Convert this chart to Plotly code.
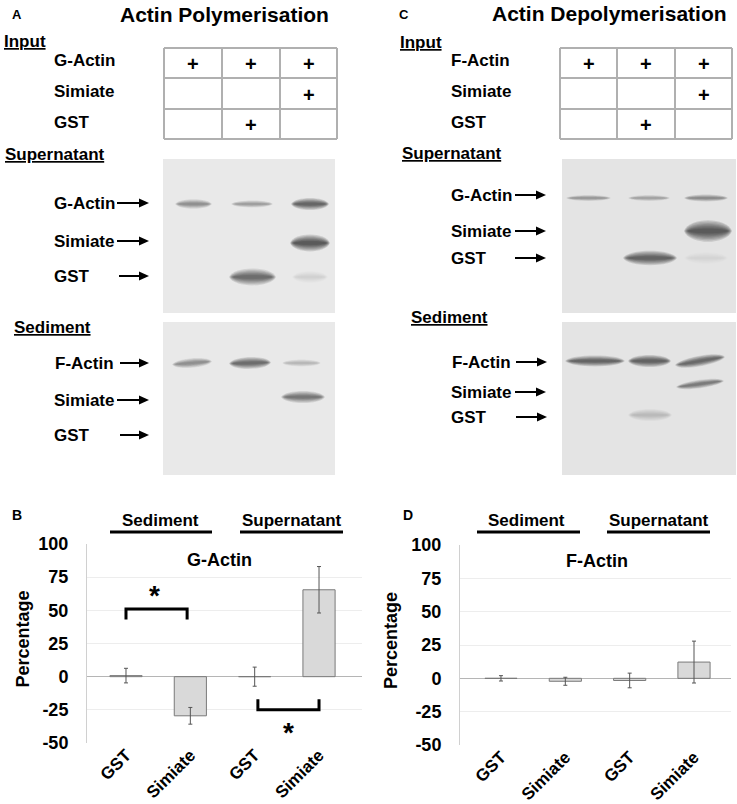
import plotly.graph_objects as go

# ---------------- DATA ----------------
input_rows_A = ["G-Actin", "Simiate", "GST"]
input_rows_C = ["F-Actin", "Simiate", "GST"]
input_matrix = [[1, 1, 1], [0, 0, 1], [0, 1, 0]]

gelA_sup_rows = ["G-Actin", "Simiate", "GST"]
gelA_sup_intensity = [[0.45, 0.35, 0.75], [0.0, 0.0, 0.85], [0.0, 0.7, 0.08]]
gelA_sed_rows = ["F-Actin", "Simiate", "GST"]
gelA_sed_intensity = [[0.45, 0.7, 0.22], [0.0, 0.0, 0.6], [0.0, 0.0, 0.0]]

gelC_sup_rows = ["G-Actin", "Simiate", "GST"]
gelC_sup_intensity = [[0.4, 0.35, 0.5], [0.0, 0.0, 0.95], [0.0, 0.85, 0.05]]
gelC_sed_rows = ["F-Actin", "Simiate", "GST"]
gelC_sed_intensity = [[0.8, 0.85, 0.75], [0.0, 0.0, 0.6], [0.0, 0.18, 0.0]]

bar_categories = ["GST", "Simiate", "GST", "Simiate"]
bar_groups = ["Sediment", "Supernatant"]
B_values = [0.8, -29.5, 0.0, 65.5]
B_errors = [5.5, 6.3, 7.2, 17.5]
D_values = [0.0, -2.2, -1.6, 12.2]
D_errors = [2.0, 3.0, 5.5, 15.7]
y_ticks = [-50, -25, 0, 25, 50, 75, 100]

# ---------------- LAYOUT CONSTANTS ----------------
W, H = 737, 804
FONT = "Liberation Sans, Arial, Helvetica, sans-serif"
shapes = []
annotations = []


def text(x, y, s, size=17, xanchor="left", bold=True, textangle=0, ref=("x", "y")):
    annotations.append(dict(x=x, y=y, xref=ref[0], yref=ref[1], text=("<b>%s</b>" % s) if bold else s,
                            showarrow=False, xanchor=xanchor, yanchor="middle",
                            font=dict(family=FONT, size=size, color="black"), textangle=textangle))


def line(x0, y0, x1, y1, color="black", width=2):
    shapes.append(dict(type="line", xref="x", yref="y", x0=x0, y0=y0, x1=x1, y1=y1,
                       line=dict(color=color, width=width)))


def arrow(x0, x1, y):
    line(x0, y, x1 - 7, y, width=2)
    shapes.append(dict(type="path", xref="x", yref="y",
                       path="M %f,%f L %f,%f L %f,%f Z" % (x1 - 10, y - 4.5, x1, y, x1 - 10, y + 4.5),
                       fillcolor="black", line=dict(width=0)))


def band(x0, x1, y0, y1, thick, inten, rgb):
    if inten <= 0:
        return
    w = x1 - x0
    scales = [2.4, 2.1, 1.8, 1.5, 1.25, 1.0, 0.75, 0.5]
    for k, scale in enumerate(scales):
        h = thick * scale / 2 / 0.75
        inset = k * 0.012 * w
        xa, xb = x0 + inset, x1 - inset
        ya = y0 + (y1 - y0) * inset / w
        yb = y1 - (y1 - y0) * inset / w
        c = 0.1 * (xb - xa)
        p = ("M %f,%f C %f,%f %f,%f %f,%f C %f,%f %f,%f %f,%f Z" %
             (xa, ya, xa + c, ya - h, xb - c, yb - h, xb, yb,
              xb - c, yb + h, xa + c, ya + h, xa, ya))
        shapes.append(dict(type="path", xref="x", yref="y", path=p,
                           fillcolor="rgba(%d,%d,%d,%.3f)" % (rgb + (0.15 * inten,)), line=dict(width=0)))


def top_panel(cfg):
    text(cfg["letter_xy"][0], cfg["letter_xy"][1], cfg["letter"], size=13)
    text(cfg["title_xy"][0], cfg["title_xy"][1], cfg["title"], size=21, xanchor="center")
    text(cfg["input_xy"][0], cfg["input_xy"][1], "<u>Input</u>", size=17)
    tx, ty = cfg["table_x"], cfg["table_y"]
    for i, lab in enumerate(cfg["input_rows"]):
        text(cfg["row_x"], cfg["row_y"][i], lab, size=17)
    for xv in tx:
        line(xv, ty[0], xv, ty[-1], color="#b0b0b0", width=2)
    for yv in ty:
        line(tx[0], yv, tx[-1], yv, color="#b0b0b0", width=2)
    for r in range(3):
        for c in range(3):
            if input_matrix[r][c]:
                text((tx[c] + tx[c + 1]) / 2, (ty[r] + ty[r + 1]) / 2 + 1, "+", size=20, xanchor="center")
    for g in cfg["gels"]:
        text(g["head_xy"][0], g["head_xy"][1], "<u>%s</u>" % g["head"], size=17)
        shapes.append(dict(type="rect", xref="x", yref="y", x0=g["rect"][0], x1=g["rect"][1],
                           y0=g["rect"][2], y1=g["rect"][3], fillcolor=g["bg"], line=dict(width=0),
                           layer="below"))
        for i, lab in enumerate(g["rows"]):
            text(cfg["row_x"] if lab != "F-Actin" else cfg["row_x"] + 1, g["label_y"][i], lab, size=17)
            arrow(g["arrow_x"][i][0], g["arrow_x"][i][1], g["label_y"][i])
            for lane in range(3):
                lx0, lx1 = g["lanes"][i][lane]
                tilt = g["tilt"][i][lane]
                band(lx0, lx1, g["band_y"][i] + tilt / 2, g["band_y"][i] - tilt / 2,
                     g["thick"][i][lane], g["intensity"][i][lane], g["rgb"])


laneA = [(174, 213), (230, 274), (290, 330)]
panelA = dict(
    letter="A", letter_xy=(10, 14), title="Actin Polymerisation", title_xy=(224, 14),
    input_xy=(2, 41), input_rows=input_rows_A, row_x=52, row_y=[60, 91, 122],
    table_x=[164, 222, 280, 337], table_y=[48, 78, 109, 139],
    gels=[
        dict(head="Supernatant", head_xy=(3, 154), rect=(163, 335, 159, 313), bg="#e9e9e9",
             rows=gelA_sup_rows, intensity=gelA_sup_intensity, label_y=[203, 241, 276],
             arrow_x=[(117, 149), (117, 149), (119, 149)], band_y=[204, 243, 277],
             lanes=[[(175, 212), (231, 273), (291, 329)], [laneA[0], laneA[1], (290, 330)],
                    [laneA[0], (229, 276), (292, 328)]],
             thick=[[4, 3, 5], [5, 5, 7], [5, 7, 5]], tilt=[[0, 0, 0], [0, 0, 0], [0, 0, 0]],
             rgb=(25, 25, 25)),
        dict(head="Sediment", head_xy=(12, 327), rect=(163, 335, 322, 475), bg="#e9e9e9",
             rows=gelA_sed_rows, intensity=gelA_sed_intensity, label_y=[363, 400, 435],
             arrow_x=[(120, 149), (117, 149), (120, 149)], band_y=[363, 397, 433],
             lanes=[[(172, 212), (229, 271), (282, 321)], [laneA[0], laneA[1], (281, 325)],
                    [laneA[0], laneA[1], laneA[2]]],
             thick=[[4, 5, 3], [4, 4, 5], [4, 4, 4]], tilt=[[3, 1, 0], [0, 0, 0], [0, 0, 0]],
             rgb=(25, 25, 25)),
    ])

laneC = [(565, 612), (624, 676), (683, 731)]
panelC = dict(
    letter="C", letter_xy=(397, 14), title="Actin Depolymerisation", title_xy=(609, 13),
    input_xy=(398, 42), input_rows=input_rows_C, row_x=449, row_y=[60, 91, 122],
    table_x=[560, 617, 675, 732], table_y=[48, 78, 109, 139],
    gels=[
        dict(head="Supernatant", head_xy=(400, 153), rect=(562, 736, 159, 313), bg="#e4e4e4",
             rows=gelC_sup_rows, intensity=gelC_sup_intensity, label_y=[195, 231, 258],
             arrow_x=[(515, 546), (515, 546), (515, 546)], band_y=[198, 231, 258],
             lanes=[[(566, 611), (628, 670), (684, 728)], [laneC[0], laneC[1], (684, 732)],
                    [laneC[0], (623, 677), (684, 728)]],
             thick=[[2.5, 2.5, 3], [5, 5, 9], [5, 6, 5]], tilt=[[0, 0, 0], [0, 0, 0], [0, 0, 0]],
             rgb=(35, 35, 35)),
        dict(head="Sediment", head_xy=(409, 317), rect=(562, 736, 322, 475), bg="#e4e4e4",
             rows=gelC_sed_rows, intensity=gelC_sed_intensity, label_y=[362, 392, 417],
             arrow_x=[(516, 547), (515, 546), (516, 547)], band_y=[361, 384, 415],
             lanes=[[(565, 625), (628, 671), (675, 725)], [laneC[0], laneC[1], (676, 724)],
                    [laneC[0], (628, 672), laneC[2]]],
             thick=[[4.5, 5, 4.5], [4, 4, 3.5], [4, 5, 4]], tilt=[[0, 0, 8], [0, 0, 6], [0, 0, 0]],
             rgb=(35, 35, 35)),
    ])

top_panel(panelA)
top_panel(panelC)

fig = go.Figure()

# bar chart geometry (pixels)
charts = [
    dict(letter="B", letter_xy=(10, 515), xa="x2", ya="y2", vals=B_values, errs=B_errors,
         px=(87, 362), py=(544, 743), xr=(0.394, 4.668), inner="G-Actin", inner_xy=(2.45, 88),
         ytitle_x=22, heads=[(160, 110, 212), (292, 240, 343)]),
    dict(letter="D", letter_xy=(401, 515), xa="x3", ya="y3", vals=D_values, errs=D_errors,
         px=(460, 731), py=(545, 745), xr=(0.363, 4.575), inner="F-Actin", inner_xy=(2.5, 88),
         ytitle_x=391, heads=[(526, 477, 580), (659, 607, 710)]),
]
positions = [1, 2, 3, 4]

for ch in charts:
    fig.add_trace(go.Bar(x=positions, y=ch["vals"], width=0.5, xaxis=ch["xa"], yaxis=ch["ya"],
                         marker=dict(color="#d9d9d9", line=dict(color="#7a7a7a", width=1)),
                         error_y=dict(type="data", array=ch["errs"], visible=True, color="#555555",
                                      thickness=1, width=2),
                         showlegend=False, hoverinfo="skip"))
    text(ch["letter_xy"][0], ch["letter_xy"][1], ch["letter"], size=14)
    for (cx, l0, l1), g in zip(ch["heads"], bar_groups):
        text(cx, 520, g, size=17, xanchor="center")
        line(l0, 532, l1, 532, width=3)
    text(ch["ytitle_x"], (ch["py"][0] + ch["py"][1]) / 2 - 4, "Percentage", size=18, xanchor="center",
         textangle=-90)
    text(ch["inner_xy"][0], ch["inner_xy"][1], ch["inner"], size=18, xanchor="center",
         ref=(ch["xa"], ch["ya"]))

# significance brackets (panel B)
bracket_x = [[1.0, 1.0, 1.95, 1.95], [3.05, 3.05, 4.0, 4.0]]
bracket_y = [[43, 51, 51, 43], [-17, -25, -25, -17]]
star_xy = [(1.44, 61), (3.53, -42)]
for bx, by in zip(bracket_x, bracket_y):
    fig.add_trace(go.Scatter(x=bx, y=by, mode="lines", xaxis="x2", yaxis="y2",
                             line=dict(color="black", width=3), showlegend=False, hoverinfo="skip"))
for sx, sy in star_xy:
    text(sx, sy, "*", size=28, xanchor="center", ref=("x2", "y2"))

# invisible canvas trace so the canvas axes exist
fig.add_trace(go.Scatter(x=[0, W], y=[0, H], mode="markers", marker=dict(opacity=0),
                         showlegend=False, hoverinfo="skip", xaxis="x", yaxis="y"))

layout_axes = dict(
    xaxis=dict(domain=[0, 1], range=[0, W], visible=False, fixedrange=True, automargin=False),
    yaxis=dict(domain=[0, 1], range=[H, 0], visible=False, fixedrange=True, automargin=False),
)
for i, ch in enumerate(charts):
    n = i + 2
    layout_axes["xaxis%d" % n] = dict(
        domain=[ch["px"][0] / W, ch["px"][1] / W], range=list(ch["xr"]), anchor="free",
        position=1 - (ch["py"][1] - 2) / H,
        tickvals=positions, ticktext=["<b>%s</b>" % c for c in bar_categories], tickangle=-45,
        showgrid=False, zeroline=False, showline=False, ticks="", automargin=False,
        tickfont=dict(family=FONT, size=17, color="black"))
    layout_axes["yaxis%d" % n] = dict(
        domain=[1 - ch["py"][1] / H, 1 - ch["py"][0] / H], range=[-50, 100], anchor="x%d" % n,
        tickvals=y_ticks, ticktext=["<b>%d</b>" % v for v in y_ticks], automargin=False,
        showgrid=True, gridcolor="#ededed", gridwidth=1, zeroline=True, zerolinecolor="#b5b5b5",
        zerolinewidth=1, showline=True, linecolor="#d0d0d0", linewidth=1, ticks="",
        ticklabelstandoff=14, tickfont=dict(family=FONT, size=18, color="black"))

fig.update_layout(
    template="none",
    width=W, height=H, autosize=False, margin=dict(l=0, r=0, t=0, b=0, pad=0),
    paper_bgcolor="white", plot_bgcolor="rgba(0,0,0,0)",
    font=dict(family=FONT, color="black"), shapes=shapes, annotations=annotations,
    hovermode=False, showlegend=False, **layout_axes)

fig.write_html("out.html", config={"displayModeBar": False},
               post_script="document.body.style.margin='0';document.body.style.overflow='hidden';")
